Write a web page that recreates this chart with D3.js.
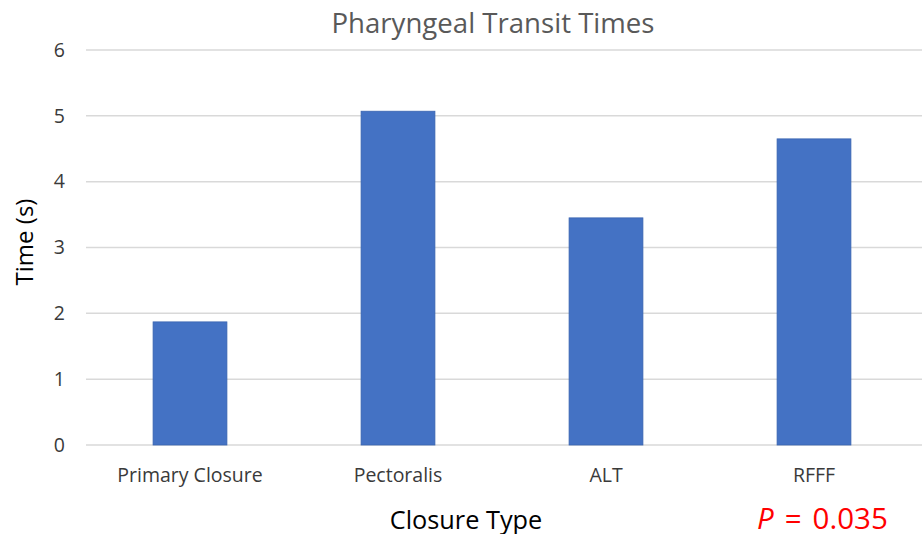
<!DOCTYPE html>
<html><head><meta charset="utf-8">
<script src="https://cdn.jsdelivr.net/npm/d3@7"></script>
<style>body{margin:0;background:#fff;} svg{display:block;} text{font-family:"Open Sans",sans-serif;}</style>
</head><body>
<svg id="chart" width="922" height="534"></svg>
<script>
const categories = ["Primary Closure", "Pectoralis", "ALT", "RFFF"];
const values = [1.87, 5.07, 3.45, 4.65];
const yTicks = [0, 1, 2, 3, 4, 5, 6];
const title = "Pharyngeal Transit Times";
const xTitle = "Closure Type";
const yTitle = "Time (s)";

(function () {
const svg = d3.select("#chart");
const mLeft = 86, mRight = 918, mTop = 50, mBottom = 445;

const x = d3.scaleBand().domain(categories).range([mLeft, mRight]).paddingInner(0.645).paddingOuter(0.3225);
const y = d3.scaleLinear().domain([0, 6]).range([mBottom, mTop]);

// gridlines
svg.append("g").selectAll("line").data(yTicks).join("line")
  .attr("x1", mLeft).attr("x2", 922)
  .attr("y1", d => y(d)).attr("y2", d => y(d))
  .attr("stroke", "#d9d9d9").attr("stroke-width", 1.5);

// y axis labels
const yAxis = d3.axisLeft(y).tickValues(yTicks).tickSize(0).tickPadding(0).tickFormat(d3.format("d"));
const ga = svg.append("g").attr("transform", `translate(65,0)`).call(yAxis);
ga.select(".domain").remove();
ga.selectAll("text").attr("font-size", 19.5).attr("fill", "#3a3a3a").attr("font-family", "Open Sans");

// bars
svg.append("g").selectAll("rect").data(values).join("rect")
  .attr("x", (d, i) => x(categories[i]))
  .attr("width", x.bandwidth())
  .attr("y", d => y(d))
  .attr("height", d => y(0) - y(d))
  .attr("fill", "#4472c4")
  .attr("stroke", "#3a64b0").attr("stroke-width", 0.8);

// x axis labels
const xAxis = d3.axisBottom(x).tickSize(0).tickPadding(0);
const gx = svg.append("g").attr("transform", `translate(0,${mBottom})`).call(xAxis);
gx.select(".domain").remove();
gx.selectAll("text").attr("font-size", 19.5).attr("fill", "#3a3a3a").attr("font-family", "Open Sans")
  .attr("dy", null).attr("y", 37);

// title
svg.append("text").attr("x", 493).attr("y", 33).attr("text-anchor", "middle")
  .attr("font-size", 27.6).attr("fill", "#595959").text(title);

// axis titles
svg.append("text").attr("x", 466).attr("y", 529).attr("text-anchor", "middle")
  .attr("font-size", 25.3).attr("fill", "#000").text(xTitle);
svg.append("text").attr("transform", "translate(33,242) rotate(-90)").attr("text-anchor", "middle")
  .attr("font-size", 24).attr("fill", "#000").text(yTitle);

// P value
const p = svg.append("text").attr("x", 757).attr("y", 529)
  .attr("font-size", 29.5).attr("fill", "#ff0000");
p.append("tspan").attr("font-style", "italic").text("P");
p.append("tspan").attr("dx", 11).text("=");
p.append("tspan").attr("dx", 11).text("0.035");
})();
</script>
</body></html>
